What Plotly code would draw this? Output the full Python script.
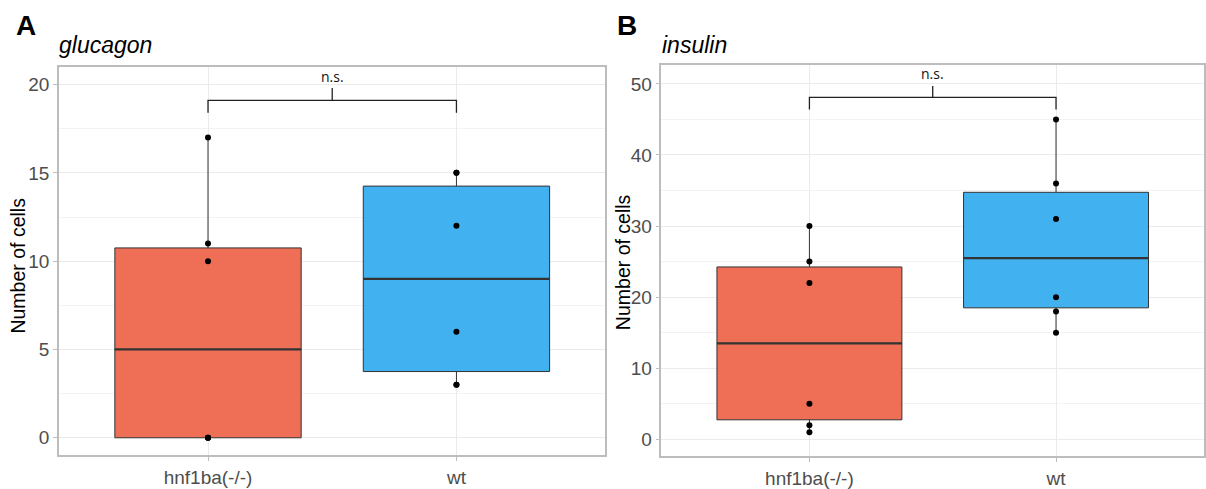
import numpy as np
import plotly.graph_objects as go

# ---------------- data ----------------
categories = ["hnf1ba(-/-)", "wt"]
glucagon_hnf1ba = [0, 0, 0, 10, 11, 17]
glucagon_wt = [3, 3, 6, 12, 15, 15]
insulin_hnf1ba = [1, 2, 5, 22, 25, 30]
insulin_wt = [15, 18, 20, 31, 36, 45]
panel_letters = ["A", "B"]
panel_titles = ["glucagon", "insulin"]
sig_label = "n.s."
y_title = "Number of cells"

# bracket levels (data units) per panel: (end bottom, bar, centre tick top, label)
bracket_A = (18.4, 19.1, 19.8, 20.45)
bracket_B = (46.4, 48.1, 49.7, 51.4)

colors = ["#EE6F55", "#41B2EF"]
box_line = "#333333"
box_width = 0.75

fig = go.Figure()


def stats(v):
    v = np.asarray(v, dtype=float)
    q1, med, q3 = np.percentile(v, [25, 50, 75])
    iqr = q3 - q1
    lo = v[v >= q1 - 1.5 * iqr].min()
    hi = v[v <= q3 + 1.5 * iqr].max()
    return q1, med, q3, lo, hi


def add_panel(groups, xa, ya):
    for i, (vals, col) in enumerate(zip(groups, colors)):
        q1, med, q3, lo, hi = stats(vals)
        fig.add_trace(go.Box(
            x=[i], q1=[q1], median=[med], q3=[q3], lowerfence=[lo], upperfence=[hi],
            width=box_width, whiskerwidth=0, fillcolor=col,
            line=dict(color=box_line, width=1), boxpoints=False,
            xaxis=xa, yaxis=ya, showlegend=False, hoverinfo="skip"))
        fig.add_trace(go.Scatter(
            x=[i - box_width / 2, i + box_width / 2], y=[med, med], mode="lines",
            line=dict(color=box_line, width=2.2), xaxis=xa, yaxis=ya,
            showlegend=False, hoverinfo="skip"))
        fig.add_trace(go.Scatter(
            x=[i] * len(vals), y=vals, mode="markers",
            marker=dict(color="black", size=6), xaxis=xa, yaxis=ya,
            showlegend=False))


def add_bracket(br, xa, ya):
    e, b, t, lab = br
    fig.add_trace(go.Scatter(x=[0, 0, 1, 1], y=[e, b, b, e], mode="lines",
                             line=dict(color="#222222", width=1.3), xaxis=xa, yaxis=ya,
                             showlegend=False, hoverinfo="skip"))
    fig.add_trace(go.Scatter(x=[0.5, 0.5], y=[b, t], mode="lines",
                             line=dict(color="#222222", width=1.3), xaxis=xa, yaxis=ya,
                             showlegend=False, hoverinfo="skip"))
    fig.add_annotation(x=0.5, y=lab, xref=xa, yref=ya, text=sig_label, showarrow=False,
                       font=dict(family="Open Sans", size=14, color="#111111"))


add_panel([glucagon_hnf1ba, glucagon_wt], "x", "y")
add_panel([insulin_hnf1ba, insulin_wt], "x2", "y2")
add_bracket(bracket_A, "x", "y")
add_bracket(bracket_B, "x2", "y2")

W, H = 1206, 489


def px(x):
    return x / W


def py(y):
    return 1 - y / H


tickfont = dict(family="Liberation Sans", size=19, color="#4D4D4D")
common_x = dict(range=[-0.6, 1.6], tickvals=[0, 1], ticktext=categories, showgrid=True,
                gridcolor="#EBEBEB", gridwidth=1, zeroline=False, showline=True,
                linecolor="#BDBDBD", linewidth=1.5, mirror=True, ticks="outside",
                ticklen=4, tickcolor="#BDBDBD", tickfont=tickfont)
common_y = dict(showgrid=True, gridcolor="#EBEBEB", gridwidth=1, zeroline=False,
                showline=True, linecolor="#BDBDBD", linewidth=1.5, mirror=True,
                ticks="outside", ticklen=4, tickcolor="#BDBDBD", tickfont=tickfont)

fig.update_layout(
    width=W, height=H, margin=dict(l=0, r=0, t=0, b=0),
    paper_bgcolor="white", plot_bgcolor="white",
    xaxis=dict(domain=[px(59), px(606)], anchor="y", **common_x),
    xaxis2=dict(domain=[px(662), px(1205)], anchor="y2", **common_x),
    yaxis=dict(domain=[py(463), py(68)], anchor="x", range=[-1, 21],
               tickvals=[0, 5, 10, 15, 20],
               minor=dict(dtick=2.5, tick0=0, showgrid=True, gridcolor="#F3F3F3", gridwidth=0.8),
               **common_y),
    yaxis2=dict(domain=[py(464), py(66)], anchor="x2", range=[-2.4, 52.67],
                tickvals=[0, 10, 20, 30, 40, 50],
                minor=dict(dtick=5, tick0=0, showgrid=True, gridcolor="#F3F3F3", gridwidth=0.8),
                **common_y),
)

# panel letters, titles, y axis titles (window pixel positions)
letter_pos = [(14, 26), (616, 26)]
title_pos = [(57, 46), (661, 46)]
ytitle_pos = [(18, 270), (623, 266)]
for letter, (lx, ly) in zip(panel_letters, letter_pos):
    fig.add_annotation(x=px(lx), y=py(ly), xref="paper", yref="paper", text=f"<b>{letter}</b>",
                       showarrow=False, xanchor="left", yanchor="middle",
                       font=dict(family="Liberation Sans", size=28, color="black"))
for t, (tx, ty) in zip(panel_titles, title_pos):
    fig.add_annotation(x=px(tx), y=py(ty), xref="paper", yref="paper", text=f"<i>{t}</i>",
                       showarrow=False, xanchor="left", yanchor="middle",
                       font=dict(family="Liberation Sans", size=23, color="black"))
for (ax_, ay_) in ytitle_pos:
    fig.add_annotation(x=px(ax_), y=py(ay_), xref="paper", yref="paper", text=y_title,
                       showarrow=False, textangle=-90, xanchor="center", yanchor="middle",
                       font=dict(family="Liberation Sans", size=19.5, color="black"))

# remove the default 8px page margin so the figure sits exactly in the window
fig.write_html("out.html", config={"displayModeBar": False},
               post_script="document.body.style.margin='0px';")
